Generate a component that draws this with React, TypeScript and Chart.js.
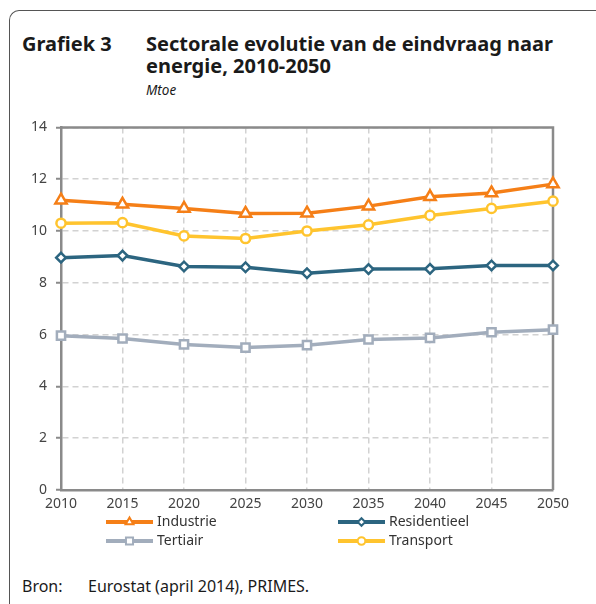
import React, { useEffect, useRef } from "react";
import { Chart, registerables } from "chart.js";

Chart.register(...registerables);

const years = ["2010", "2015", "2020", "2025", "2030", "2035", "2040", "2045", "2050"];
const industrie = [11.19, 11.03, 10.87, 10.68, 10.69, 10.96, 11.32, 11.47, 11.81];
const transport = [10.3, 10.32, 9.81, 9.71, 10.0, 10.24, 10.6, 10.87, 11.15];
const residentieel = [8.97, 9.05, 8.63, 8.6, 8.37, 8.53, 8.54, 8.67, 8.67];
const tertiair = [5.96, 5.85, 5.62, 5.5, 5.59, 5.81, 5.87, 6.09, 6.19];

const FONT = "'Noto Sans', 'DejaVu Sans', sans-serif";
const C_IND = "#F57F17";
const C_TRA = "#FFC42E";
const C_RES = "#2C6580";
const C_TER = "#A2ADBC";

const CANVAS_TOP = 110;

function marker(ctx: CanvasRenderingContext2D, style: string, x: number, y: number, r: number) {
  ctx.beginPath();
  if (style === "triangle") {
    for (let i = 0; i < 3; i++) {
      const a = (i * 2 * Math.PI) / 3;
      const px = x + Math.sin(a) * r;
      const py = y - Math.cos(a) * r;
      if (i === 0) ctx.moveTo(px, py);
      else ctx.lineTo(px, py);
    }
    ctx.closePath();
  } else if (style === "rect") {
    const s = Math.SQRT1_2 * r;
    ctx.rect(x - s, y - s, 2 * s, 2 * s);
  } else if (style === "rectRot") {
    ctx.moveTo(x, y - r);
    ctx.lineTo(x + r, y);
    ctx.lineTo(x, y + r);
    ctx.lineTo(x - r, y);
    ctx.closePath();
  } else {
    ctx.arc(x, y, r, 0, Math.PI * 2);
  }
  ctx.fill();
  ctx.stroke();
}

export default function App() {
  const ref = useRef<HTMLCanvasElement>(null);

  useEffect(() => {
    if (!ref.current) return;
    const frame = {
      id: "frame",
      beforeDatasetsDraw(chart: any) {
        const { ctx, chartArea: a } = chart;
        ctx.save();
        ctx.strokeStyle = "#8a8a8a";
        ctx.lineWidth = 2.5;
        ctx.beginPath();
        ctx.moveTo(a.left, a.top);
        ctx.lineTo(a.right, a.top);
        ctx.lineTo(a.right, a.bottom);
        ctx.stroke();
        ctx.restore();
      },
    };
    const legend = {
      id: "customLegend",
      afterDraw(chart: any) {
        const { ctx } = chart;
        const items = [
          { ds: 0, x: 106, y: 522 - CANVAS_TOP },
          { ds: 2, x: 338, y: 522 - CANVAS_TOP },
          { ds: 3, x: 106, y: 541 - CANVAS_TOP },
          { ds: 1, x: 338, y: 541 - CANVAS_TOP },
        ];
        ctx.save();
        for (const it of items) {
          const d = chart.data.datasets[it.ds];
          ctx.strokeStyle = d.borderColor;
          ctx.lineWidth = 4;
          ctx.beginPath();
          ctx.moveTo(it.x, it.y);
          ctx.lineTo(it.x + 47, it.y);
          ctx.stroke();
          ctx.fillStyle = "#fff";
          ctx.strokeStyle = d.borderColor;
          ctx.lineWidth = 2;
          const r = d.pointStyle === "triangle" ? 4.5 : d.pointStyle === "rect" ? 5 : 3.8;
          marker(ctx, d.pointStyle, it.x + 23.5, it.y, r);
          ctx.fillStyle = "#333";
          ctx.font = `14px ${FONT}`;
          ctx.textBaseline = "middle";
          ctx.textAlign = "left";
          ctx.fillText(d.label, it.x + 51, it.y);
        }
        ctx.restore();
      },
    };
    const mk = (label: string, data: number[], color: string, style: string, r: number) => ({
      label,
      data,
      borderColor: color,
      backgroundColor: "#ffffff",
      borderWidth: 3.5,
      pointStyle: style,
      pointRadius: r,
      pointBorderWidth: 2.5,
      pointBackgroundColor: "#ffffff",
      pointBorderColor: color,
      tension: 0,
    });
    const chart = new Chart(ref.current, {
      type: "line",
      data: {
        labels: years,
        datasets: [
          mk("Industrie", industrie, C_IND, "triangle", 6.5),
          mk("Transport", transport, C_TRA, "circle", 4.6),
          mk("Residentieel", residentieel, C_RES, "rectRot", 4.8),
          mk("Tertiair", tertiair, C_TER, "rect", 5.8),
        ],
      },
      options: {
        animation: false,
        responsive: false,
        maintainAspectRatio: false,
        layout: { padding: { left: 0, right: 43, top: 17, bottom: 0 } },
        plugins: { legend: { display: false }, tooltip: { enabled: false }, title: { display: false } },
        scales: {
          x: {
            offset: false,
            grid: { color: "#d2d2d2", lineWidth: 1.5, drawTicks: false },
            border: { display: true, color: "#8a8a8a", width: 2.5, dash: [6, 4] },
            ticks: { color: "#444", font: { size: 14, family: FONT }, padding: 6, maxRotation: 0, autoSkip: false },
            afterFit: (s: any) => { s.height = 80; },
          },
          y: {
            min: 0,
            max: 14,
            grid: { color: "#d2d2d2", lineWidth: 1.5, drawTicks: true, tickLength: 5, tickColor: "#8a8a8a", tickWidth: 2 },
            border: { display: true, color: "#8a8a8a", width: 2.5, dash: [6, 4] },
            ticks: { stepSize: 2, color: "#444", font: { size: 14, family: FONT }, padding: 9 },
            afterFit: (s: any) => { s.width = 61; },
          },
        },
      },
      plugins: [frame, legend],
    } as any);
    return () => chart.destroy();
  }, []);

  return (
    <div style={{ position: "fixed", left: 0, top: 0, width: 596, height: 604, background: "#fff", fontFamily: FONT, color: "#1a1a1a", overflow: "hidden" }}>
      <div style={{ position: "absolute", left: 9, top: 10, width: 600, height: 620, borderTop: "1.5px solid #555", borderLeft: "1.5px solid #555", borderTopLeftRadius: 10 }} />
      <div style={{ position: "absolute", left: 22, top: 33, fontWeight: 700, fontSize: 20, lineHeight: "21.5px", whiteSpace: "nowrap" }}>Grafiek 3</div>
      <div style={{ position: "absolute", left: 146, top: 33, fontWeight: 700, fontSize: 20, lineHeight: "21.5px", width: 450, whiteSpace: "nowrap" }}>
        Sectorale evolutie van de eindvraag naar<br />energie, 2010-2050
      </div>
      <div style={{ position: "absolute", left: 146, top: 82, fontStyle: "italic", fontSize: 13.5, lineHeight: "16px" }}>Mtoe</div>
      <canvas ref={ref} width={596} height={460} style={{ position: "absolute", left: 0, top: CANVAS_TOP, width: 596, height: 460 }} />
      <div style={{ position: "absolute", left: 22, top: 576, fontSize: 16, lineHeight: "20px", whiteSpace: "nowrap" }}>Bron:</div>
      <div style={{ position: "absolute", left: 88, top: 576, fontSize: 16, lineHeight: "20px", whiteSpace: "nowrap" }}>Eurostat (april 2014), PRIMES.</div>
    </div>
  );
}
